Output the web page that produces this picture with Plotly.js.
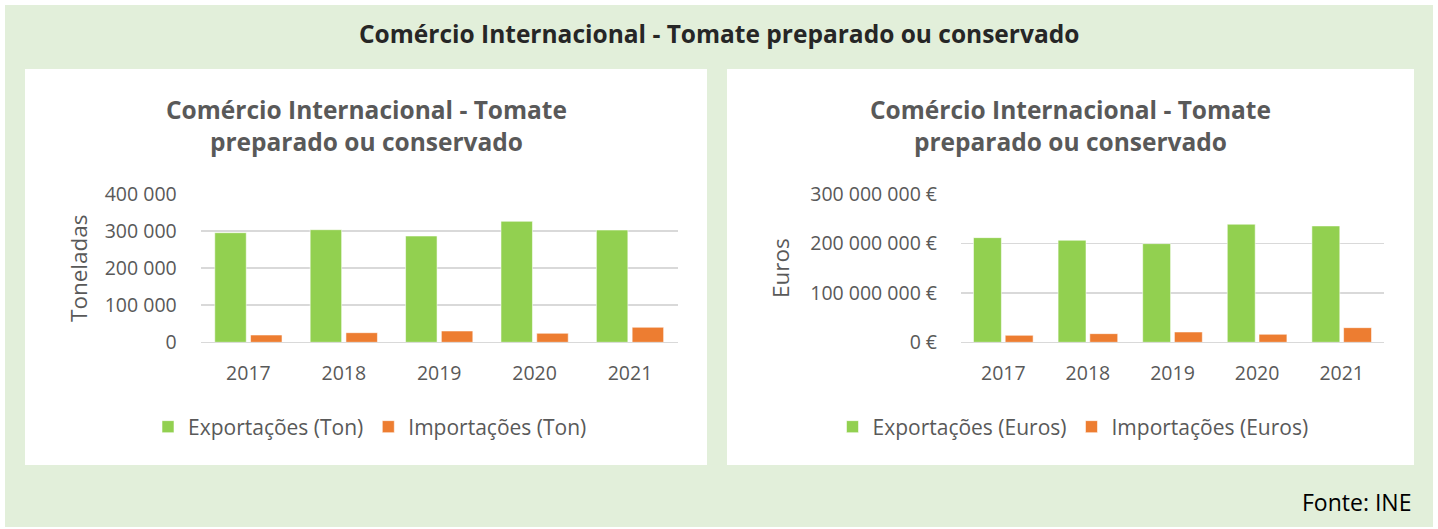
<!DOCTYPE html>
<html>
<head>
<meta charset="utf-8">
<script src="https://cdn.plot.ly/plotly-3.0.1.min.js"></script>
<style>html,body{margin:0;padding:0;background:#fff;}#chart{width:1438px;height:529px;}</style>
</head>
<body>
<div id="chart"></div>
<script>
const years = ['2017', '2018', '2019', '2020', '2021'];
const exportTon = [295600, 303700, 286700, 326400, 302900];
const importTon = [19700, 25900, 30500, 24300, 40500];
const exportEuro = [211700000, 206500000, 199600000, 238900000, 235400000];
const importEuro = [14100000, 17500000, 20900000, 16200000, 29600000];

const W = 1438, H = 529;
const px = x => x / W;
const py = y => 1 - y / H;

const FONT = '"Open Sans", Lato, sans-serif';
const GREY = '#595959';
const GREEN = '#92D050';
const ORANGE = '#ED7D31';
const barLine = {color: 'rgba(255,255,255,0.55)', width: 1};

const traces = [
  {type: 'bar', x: years, y: exportTon, name: 'Exportações (Ton)', marker: {color: GREEN, line: barLine}, xaxis: 'x', yaxis: 'y', legend: 'legend', hoverinfo: 'x+y'},
  {type: 'bar', x: years, y: importTon, name: 'Importações (Ton)', marker: {color: ORANGE, line: barLine}, xaxis: 'x', yaxis: 'y', legend: 'legend', hoverinfo: 'x+y'},
  {type: 'bar', x: years, y: exportEuro, name: 'Exportações (Euros)', marker: {color: GREEN, line: barLine}, xaxis: 'x2', yaxis: 'y2', legend: 'legend2', hoverinfo: 'x+y'},
  {type: 'bar', x: years, y: importEuro, name: 'Importações (Euros)', marker: {color: ORANGE, line: barLine}, xaxis: 'x2', yaxis: 'y2', legend: 'legend2', hoverinfo: 'x+y'}
];

const tickFont = {family: FONT, size: 19.5, color: GREY};
const yCommon = {
  showgrid: true, gridcolor: '#D9D9D9', gridwidth: 1.5,
  zeroline: true, zerolinecolor: '#D9D9D9', zerolinewidth: 1.5,
  showline: false, ticks: '', tickfont: tickFont, ticklabelstandoff: 23,
  fixedrange: true
};
const xCommon = {
  showgrid: false, zeroline: false, showline: false, ticks: '',
  tickfont: tickFont, ticklabelstandoff: 17, fixedrange: true, type: 'category'
};

const legendFont = {family: FONT, size: 21, color: GREY};

const layout = {
  width: W, height: H,
  margin: {l: 0, r: 0, t: 0, b: 0, pad: 0},
  paper_bgcolor: '#FFFFFF',
  plot_bgcolor: 'rgba(0,0,0,0)',
  separators: ', ',
  barmode: 'group',
  bargap: 0.25,
  bargroupgap: 0.12,
  font: {family: FONT, color: GREY},
  xaxis: Object.assign({}, xCommon, {domain: [px(200.7), px(677.7)], anchor: 'y'}),
  yaxis: Object.assign({}, yCommon, {domain: [py(342.3), py(194)], range: [0, 400000], dtick: 100000, tickformat: ',d', anchor: 'x'}),
  xaxis2: Object.assign({}, xCommon, {domain: [px(961), px(1384)], anchor: 'y2'}),
  yaxis2: Object.assign({}, yCommon, {domain: [py(342.3), py(194)], range: [0, 300000000], dtick: 100000000, tickformat: ',d', ticksuffix: ' €', anchor: 'x2'}),
  legend: {orientation: 'h', x: px(370), xanchor: 'center', y: py(427), yanchor: 'middle',
    font: legendFont, bgcolor: 'rgba(0,0,0,0)', traceorder: 'normal', itemwidth: 30},
  legend2: {orientation: 'h', x: px(1073), xanchor: 'center', y: py(427), yanchor: 'middle',
    font: legendFont, bgcolor: 'rgba(0,0,0,0)', traceorder: 'normal', itemwidth: 30},
  shapes: [
    {type: 'rect', xref: 'paper', yref: 'paper', x0: px(5), x1: px(1433), y0: py(527), y1: py(5), fillcolor: '#E2EFDA', line: {width: 0}, layer: 'below'},
    {type: 'rect', xref: 'paper', yref: 'paper', x0: px(25), x1: px(707), y0: py(465), y1: py(69), fillcolor: '#FFFFFF', line: {width: 0}, layer: 'below'},
    {type: 'rect', xref: 'paper', yref: 'paper', x0: px(727), x1: px(1414), y0: py(465), y1: py(69), fillcolor: '#FFFFFF', line: {width: 0}, layer: 'below'}
  ],
  annotations: [
    {text: '<b>Comércio Internacional - Tomate preparado ou conservado</b>', xref: 'paper', yref: 'paper', x: px(719), y: py(33), xanchor: 'center', yanchor: 'middle', showarrow: false, font: {family: FONT, size: 24.5, color: '#262626'}},
    {text: '<b>Comércio Internacional - Tomate<br>preparado ou conservado</b>', xref: 'paper', yref: 'paper', x: px(366), y: py(125), xanchor: 'center', yanchor: 'middle', showarrow: false, font: {family: FONT, size: 24.5, color: GREY}, align: 'center'},
    {text: '<b>Comércio Internacional - Tomate<br>preparado ou conservado</b>', xref: 'paper', yref: 'paper', x: px(1070), y: py(125), xanchor: 'center', yanchor: 'middle', showarrow: false, font: {family: FONT, size: 24.5, color: GREY}, align: 'center'},
    {text: 'Toneladas', xref: 'paper', yref: 'paper', x: px(78), y: py(268), xanchor: 'center', yanchor: 'middle', textangle: -90, showarrow: false, font: {family: FONT, size: 22.5, color: GREY}},
    {text: 'Euros', xref: 'paper', yref: 'paper', x: px(780), y: py(268), xanchor: 'center', yanchor: 'middle', textangle: -90, showarrow: false, font: {family: FONT, size: 22.5, color: GREY}},
    {text: 'Fonte: INE', xref: 'paper', yref: 'paper', x: px(1413), y: py(502), xanchor: 'right', yanchor: 'middle', showarrow: false, font: {family: FONT, size: 23, color: '#000000'}}
  ]
};

Plotly.newPlot('chart', traces, layout, {displayModeBar: false, staticPlot: true});
</script>
</body>
</html>
